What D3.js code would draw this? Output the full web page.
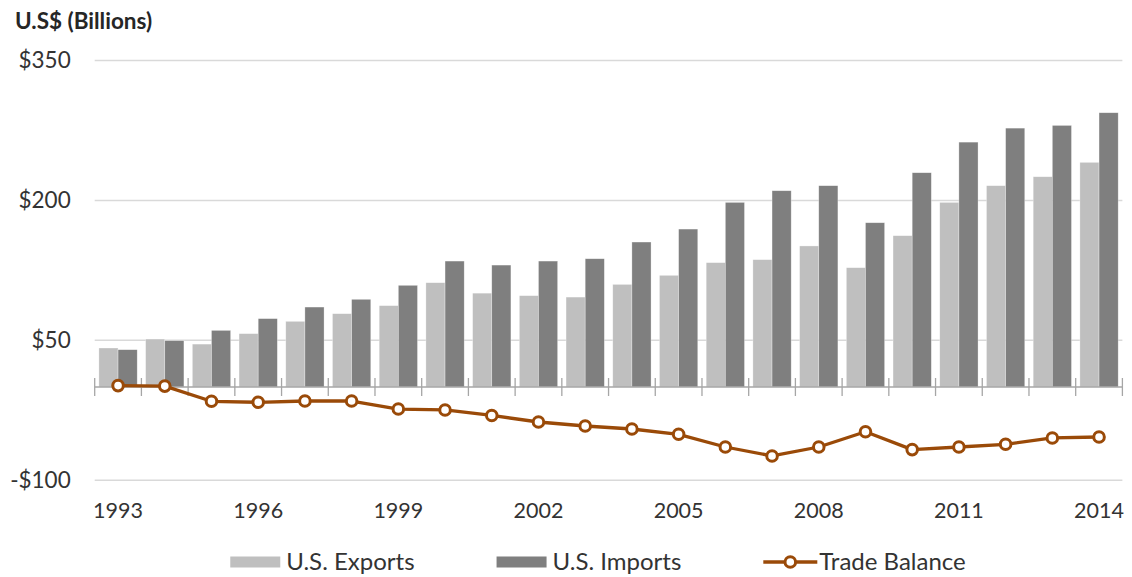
<!DOCTYPE html>
<html>
<head>
<meta charset="utf-8">
<script src="https://cdn.jsdelivr.net/npm/d3@7"></script>
<style>
  body { margin: 0; background: #fff; }
  text { font-family: Lato, "Open Sans", sans-serif; }
</style>
</head>
<body>
<div id="chart"></div>
<script>
var years = [1993, 1994, 1995, 1996, 1997, 1998, 1999, 2000, 2001, 2002, 2003,
             2004, 2005, 2006, 2007, 2008, 2009, 2010, 2011, 2012, 2013, 2014];
var exportsUS = [41.8, 51.4, 46, 57.2, 70.4, 78.6, 87.2, 111.8, 100.6, 97.9, 96.4,
                 110, 119.7, 133.3, 136.5, 151.2, 127.9, 162.2, 197.9, 215.8, 225.4, 240.8];
var importsUS = [40, 49.7, 60.7, 73.3, 85.7, 94, 109, 135, 130.7, 135, 137.5,
                 155.4, 169.3, 197.9, 210.4, 215.8, 176.1, 229.7, 262.5, 277.5, 280.4, 294];
var balance = [1.5, 1, -15.3, -16.4, -15, -15, -23.6, -24.6, -30.5, -37.5, -41.8,
               -45, -50.7, -64.3, -73.9, -64.3, -47.9, -67.1, -64.3, -61.4, -54.6, -53.6];
var yTicks = [-100, 50, 200, 350];
var xLabels = [1993, 1996, 1999, 2002, 2005, 2008, 2011, 2014];
var seriesNames = ["U.S. Exports", "U.S. Imports", "Trade Balance"];

var width = 1132, height = 577;
var margin = {left: 94.7, right: 9.6, top: 60.5, bottom: 96.7};

var colors = {exp: "#bfbfbf", imp: "#7f7f7f", bal: "#9a4a08"};

var svg = d3.select("#chart")
  .append("svg")
  .attr("width", width)
  .attr("height", height);

var x = d3.scaleBand()
  .domain(years)
  .range([margin.left, width - margin.right])
  .padding(0);

var inner = d3.scaleBand()
  .domain(["exp", "imp"])
  .range([0, x.bandwidth()])
  .paddingInner(0)
  .paddingOuter(0.22);

var y = d3.scaleLinear()
  .domain([-100, 350])
  .range([height - margin.bottom, margin.top]);

// title
svg.append("text")
  .attr("x", 15)
  .attr("y", 28.5)
  .style("font-size", "22.5px")
  .style("font-weight", "bold")
  .attr("fill", "#262626")
  .text("U.S$ (Billions)");

// gridlines
svg.append("g")
  .selectAll("line")
  .data(yTicks)
  .enter()
  .append("line")
    .attr("x1", margin.left)
    .attr("x2", width - margin.right)
    .attr("y1", d => y(d))
    .attr("y2", d => y(d))
    .attr("stroke", "#d9d9d9")
    .attr("stroke-width", 1.5);

// y labels
var yAxis = g => g
  .attr("transform", `translate(${margin.left},0)`)
  .call(d3.axisLeft(y).tickValues(yTicks).tickSize(0).tickPadding(24)
    .tickFormat(d => d < 0 ? "-$" + Math.abs(d) : "$" + d))
  .call(g => g.select(".domain").remove());

svg.append("g")
  .call(yAxis)
  .selectAll("text")
    .style("font-size", "22.5px")
    .style("font-family", "Lato, sans-serif")
    .attr("fill", "#333333");

// bars
var rows = years.map((yr, i) => ({year: yr, exp: exportsUS[i], imp: importsUS[i], bal: balance[i]}));

svg.append("g")
  .selectAll("g")
  .data(rows)
  .enter()
  .append("g")
    .attr("transform", d => `translate(${x(d.year)},0)`)
  .selectAll("rect")
  .data(d => [{key: "exp", v: d.exp}, {key: "imp", v: d.imp}])
  .enter()
  .append("rect")
    .attr("x", d => inner(d.key))
    .attr("width", inner.bandwidth())
    .attr("y", d => y(d.v))
    .attr("height", d => y(0) - y(d.v))
    .attr("fill", d => colors[d.key])
    .attr("stroke", "#ffffff")
    .attr("stroke-opacity", 0.5)
    .attr("stroke-width", 0.6);

// category axis at zero
var tickPos = years.map(yr => x(yr)).concat([x.range()[1]]);
var zeroAxis = svg.append("g");
zeroAxis.append("line")
  .attr("x1", margin.left)
  .attr("x2", width - margin.right)
  .attr("y1", y(0))
  .attr("y2", y(0))
  .attr("stroke", "#a6a6a6")
  .attr("stroke-width", 1.3);
zeroAxis.selectAll(".tick")
  .data(tickPos)
  .enter()
  .append("line")
    .attr("x1", d => d)
    .attr("x2", d => d)
    .attr("y1", y(0) - 9)
    .attr("y2", y(0) + 9)
    .attr("stroke", "#a6a6a6")
    .attr("stroke-width", 1.3);

// x labels
var xAxis = g => g
  .attr("transform", `translate(0,${y(-100)})`)
  .call(d3.axisBottom(x).tickValues(xLabels).tickSize(0).tickPadding(22))
  .call(g => g.select(".domain").remove());

svg.append("g")
  .call(xAxis)
  .selectAll("text")
    .style("font-size", "21.5px")
    .style("font-family", "Lato, sans-serif")
    .attr("fill", "#333333");

// trade balance line
var line = d3.line()
  .x(d => x(d.year) + x.bandwidth() / 2)
  .y(d => y(d.bal));

svg.append("path")
  .datum(rows)
  .attr("fill", "none")
  .attr("stroke", colors.bal)
  .attr("stroke-width", 3.3)
  .attr("stroke-linejoin", "round")
  .attr("d", line);

svg.append("g")
  .selectAll("circle")
  .data(rows)
  .enter()
  .append("circle")
    .attr("cx", d => x(d.year) + x.bandwidth() / 2)
    .attr("cy", d => y(d.bal))
    .attr("r", 5.3)
    .attr("fill", "#fff")
    .attr("stroke", colors.bal)
    .attr("stroke-width", 3);

// legend
var legend = svg.append("g").attr("transform", "translate(0,562)");
var swatchW = 50, swatchGap = 6, itemGap = 82;
var items = legend.selectAll("g")
  .data(seriesNames)
  .enter()
  .append("g");

items.append("text")
  .attr("x", swatchW + swatchGap)
  .attr("dy", "0.35em")
  .style("font-size", "24px")
  .attr("fill", "#333333")
  .text(d => d);

items.each(function(d, i) {
  var g = d3.select(this);
  if (i < 2) {
    g.append("rect")
      .attr("x", 0)
      .attr("y", -5.5)
      .attr("width", swatchW)
      .attr("height", 11)
      .attr("fill", i == 0 ? colors.exp : colors.imp);
  } else {
    g.append("line")
      .attr("x1", 0).attr("x2", swatchW + 4)
      .attr("y1", 0).attr("y2", 0)
      .attr("stroke", colors.bal)
      .attr("stroke-width", 3.3);
    g.append("circle")
      .attr("cx", (swatchW + 4) / 2)
      .attr("cy", 0)
      .attr("r", 5.3)
      .attr("fill", "#fff")
      .attr("stroke", colors.bal)
      .attr("stroke-width", 3);
  }
});

// lay legend items out in a row, centred like the original
var widths = [];
items.each(function() { widths.push(this.getBBox().width); });
var total = d3.sum(widths) + itemGap * (widths.length - 1);
var start = 598 - total / 2;
items.attr("transform", (d, i) => {
  var off = start + d3.sum(widths.slice(0, i)) + itemGap * i;
  return `translate(${off},0)`;
});
</script>
</body>
</html>
